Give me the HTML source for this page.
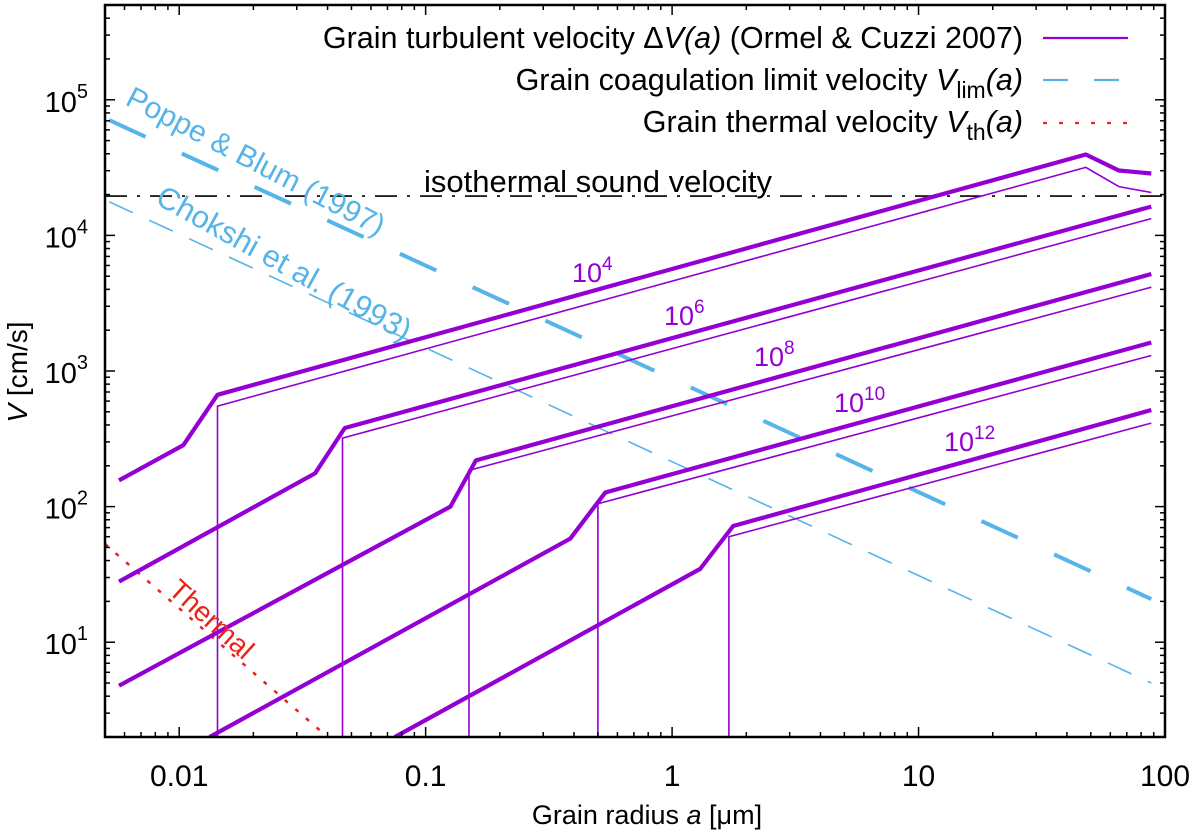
<!DOCTYPE html>
<html><head><meta charset="utf-8"><style>
body{margin:0;background:#fff;}
svg{display:block;font-family:"Liberation Sans",sans-serif;}
</style></head><body>
<svg id="chart" width="1200" height="839"></svg>
<script>
// ---- data ----
const xDomain = [0.005, 100];
const yDomain = [2, 5e5];
const xTickVals = [0.01, 0.1, 1, 10, 100];
const xTickLabels = ["0.01", "0.1", "1", "10", "100"];
const yTickExps = [1, 2, 3, 4, 5];
const turbLabels = ["4", "6", "8", "10", "12"];
const turbThickA = [
  [0.0057, 0.0104, 0.0143, 47.7, 65, 88],
  [0.0057, 0.0356, 0.047, 88],
  [0.0057, 0.126, 0.16, 88],
  [0.0133, 0.386, 0.536, 88],
  [0.075, 1.30, 1.77, 88]
];
const turbThickV = [
  [156, 284, 667, 39500, 30100, 28600],
  [28, 176, 380, 16300],
  [4.78, 100, 219, 5190],
  [2, 58, 127, 1622],
  [2, 34.7, 72, 516]
];
const turbThinA = [
  [0.0143, 0.0143, 47.7, 65, 88],
  [0.046, 0.046, 88],
  [0.15, 0.15, 88],
  [0.5, 0.5, 88],
  [1.7, 1.7, 88]
];
const turbThinV = [
  [2, 551, 31700, 22900, 20700],
  [2, 320, 13300],
  [2, 185, 4150],
  [2, 105, 1300],
  [2, 60, 413]
];
const poppeA = [0.0052, 88];
const poppeV = [70800, 20.8];
const chokshiA = [0.0052, 88];
const chokshiV = [17700, 5.0];
const thermalA = [0.005, 0.04];
const thermalV = [53, 2];
const soundV = 19500;

// ---- scales ----
const L=105,R=1165,T=5,B=737;
const lx0=Math.log10(xDomain[0]),lx1=Math.log10(xDomain[1]);
const ly0=Math.log10(yDomain[0]),ly1=Math.log10(yDomain[1]);
const X=a=>L+(Math.log10(a)-lx0)/(lx1-lx0)*(R-L);
const Y=v=>B-(Math.log10(v)-ly0)/(ly1-ly0)*(B-T);
const svg=document.getElementById('chart');
const NS="http://www.w3.org/2000/svg";
function mk(tag,attrs,parent){const e=document.createElementNS(NS,tag);for(const k in attrs)e.setAttribute(k,attrs[k]);(parent||svg).appendChild(e);return e;}
function pts(as,vs){return as.map((a,i)=>X(a).toFixed(1)+','+Y(vs[i]).toFixed(1)).join(' ');}

const clip=mk('clipPath',{id:'pc'});mk('rect',{x:L,y:T,width:R-L,height:B-T},clip);
const plot=mk('g',{'clip-path':'url(#pc)'});



let e=mk('line',{x1:L,x2:R,y1:Y(soundV),y2:Y(soundV),stroke:'#000','stroke-width':1.6,'stroke-dasharray':'22,10,3,10'},plot);



e=mk('polyline',{points:pts(thermalA,thermalV),fill:'none',stroke:'#e8241a','stroke-width':2.5,'stroke-dasharray':'4,10'},plot);


e=mk('polyline',{points:pts(poppeA,poppeV),fill:'none',stroke:'#56b4e9','stroke-width':4,'stroke-dasharray':'40,40'},plot);


e=mk('polyline',{points:pts(chokshiA,chokshiV),fill:'none',stroke:'#56b4e9','stroke-width':1.6,'stroke-dasharray':'26,18'},plot);



for(let i=0;i<turbThickA.length;i++){
  e=mk('polyline',{points:pts(turbThickA[i],turbThickV[i]),fill:'none',stroke:'#9400d3','stroke-width':4.2,'stroke-linejoin':'round'},plot);
  
  
  e=mk('polyline',{points:pts(turbThinA[i],turbThinV[i]),fill:'none',stroke:'#9400d3','stroke-width':1.6},plot);
  
  
}

const tk=mk('g',{stroke:'#000','stroke-width':1.5});


for(let d=-3;d<=2;d++)for(let m=1;m<10;m++){
  const a=m*Math.pow(10,d); if(a<xDomain[0]||a>xDomain[1])continue;
  const len=m===1?10:5,x=X(a);
  mk('line',{x1:x,x2:x,y1:B,y2:B-len},tk);mk('line',{x1:x,x2:x,y1:T,y2:T+len},tk);
}
for(let d=0;d<=5;d++)for(let m=1;m<10;m++){
  const v=m*Math.pow(10,d); if(v<yDomain[0]||v>yDomain[1])continue;
  const len=m===1?10:5,y=Y(v);
  mk('line',{x1:L,x2:L+len,y1:y,y2:y},tk);mk('line',{x1:R,x2:R-len,y1:y,y2:y},tk);
}
e=mk('rect',{x:L,y:T,width:R-L,height:B-T,fill:'none',stroke:'#000','stroke-width':2.5});



xTickVals.forEach((a,i)=>{
  const t=mk('text',{x:X(a),y:786,'font-size':30,'text-anchor':'middle'});t.textContent=xTickLabels[i];
  
  
});
yTickExps.forEach(p=>{
  const t=mk('text',{x:88,y:Y(Math.pow(10,p))+12,'font-size':29,'text-anchor':'end'});
  t.innerHTML='10<tspan dy="-14" font-size="20">'+p+'</tspan>';
  
  
});
let t=mk('text',{x:647,y:824,'font-size':27,'text-anchor':'middle'});
t.innerHTML='Grain radius <tspan font-style="italic">a</tspan> [μm]';


t=mk('text',{x:0,y:0,'font-size':28,'text-anchor':'middle',transform:'translate(27,372) rotate(-90)'});
t.innerHTML='<tspan font-style="italic">V</tspan> [cm/s]';



const lblPos=[[572,282],[664,325],[754,366],[834,412],[944,451]];
turbLabels.forEach((p,i)=>{
  const t=mk('text',{x:lblPos[i][0],y:lblPos[i][1],'font-size':27,fill:'#9400d3'});
  t.innerHTML='10<tspan dy="-12" font-size="19">'+p+'</tspan>';
  
  
});
t=mk('text',{x:0,y:0,'font-size':30,fill:'#56b4e9',transform:'translate(124,104) rotate(27.5)'});t.textContent='Poppe & Blum (1997)';


t=mk('text',{x:0,y:0,'font-size':31,fill:'#56b4e9',transform:'translate(154,203) rotate(29)'});t.textContent='Chokshi et al. (1993)';


t=mk('text',{x:0,y:0,'font-size':28,fill:'#e8241a',transform:'translate(167,592) rotate(42)'});t.textContent='Thermal';


t=mk('text',{x:598,y:192,'font-size':31,'text-anchor':'middle'});t.textContent='isothermal sound velocity';



const lg=mk('g',{'font-size':30.5});


t=mk('text',{x:1023,y:48,'text-anchor':'end'},lg);
t.innerHTML='Grain turbulent velocity Δ<tspan font-style="italic">V(a)</tspan> (Ormel &amp; Cuzzi 2007)';


e=mk('line',{x1:1043,x2:1128,y1:38,y2:38,stroke:'#9400d3','stroke-width':2.2},lg);
t=mk('text',{x:1023,y:90,'text-anchor':'end'},lg);
t.innerHTML='Grain coagulation limit velocity <tspan font-style="italic">V</tspan><tspan dy="8" font-size="23">lim</tspan><tspan dy="-8" font-style="italic">(a)</tspan>';


e=mk('line',{x1:1043,x2:1128,y1:80,y2:80,stroke:'#56b4e9','stroke-width':2.2,'stroke-dasharray':'25,26'},lg);
t=mk('text',{x:1023,y:132,'text-anchor':'end'},lg);
t.innerHTML='Grain thermal velocity <tspan font-style="italic">V</tspan><tspan dy="8" font-size="23">th</tspan><tspan dy="-8" font-style="italic">(a)</tspan>';


e=mk('line',{x1:1043,x2:1128,y1:123,y2:123,stroke:'#e8241a','stroke-width':2.2,'stroke-dasharray':'4,12'},lg);
</script>
</body></html>
